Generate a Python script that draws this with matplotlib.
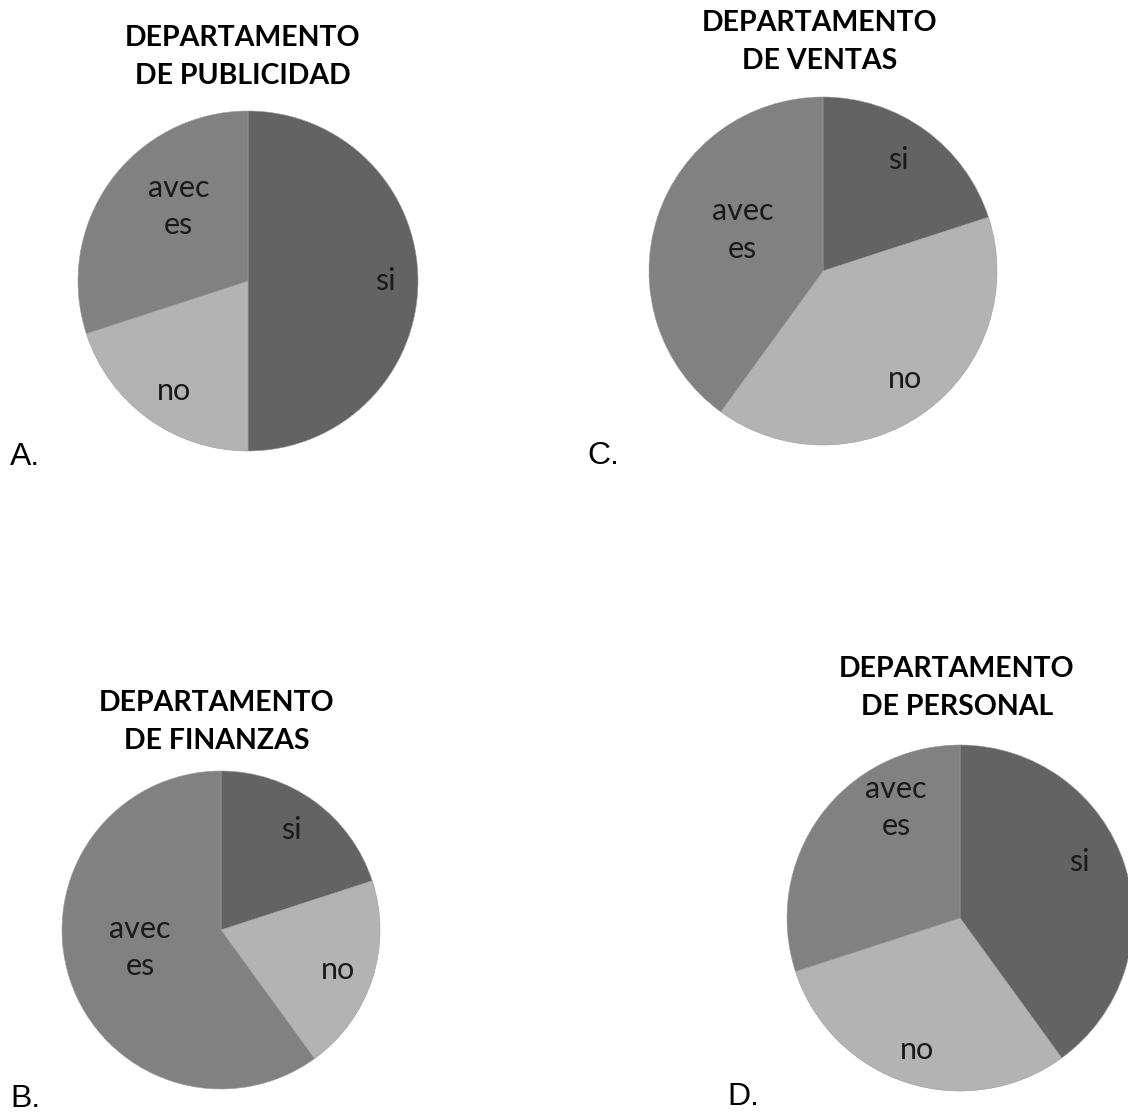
import numpy as np
import matplotlib
matplotlib.use("Agg")
import matplotlib.pyplot as plt

# datos (porcentajes)
categorias = ["si", "no", "avec\nes"]
publicidad = [50, 20, 30]
ventas = [20, 40, 40]
finanzas = [20, 20, 60]
personal = [40, 30, 30]
colores = ["#636363", "#b3b3b3", "#818181"]

W, H = 1128, 1115
fig = plt.figure(figsize=(W / 100, H / 100), dpi=100)
fig.patch.set_facecolor("white")

# (valores, titulo, letra, centro x, centro y, radio, distancias etiquetas, giro etiquetas, pos titulo, pos letra)
paneles = [
    (publicidad, "DEPARTAMENTO\nDE PUBLICIDAD", "A.", 248, 281, 170,
     [0.81, 0.78, 0.6], [0, 2, -11], (243, 57), (10, 457)),
    (ventas, "DEPARTAMENTO\nDE VENTAS", "C.", 823, 271, 174,
     [0.77, 0.78, 0.52], [2, 1, -9], (820, 42), (587, 456)),
    (finanzas, "DEPARTAMENTO\nDE FINANZAS", "B.", 221, 930, 159,
     [0.77, 0.78, 0.52], [1, -1, -6], (217, 722), (10, 1099)),
    (personal, "DEPARTAMENTO\nDE PERSONAL", "D.", 960, 918, 173,
     [0.76, 0.8, 0.74], [7, 0, -24], (957, 688), (727, 1097)),
]

for vals, titulo, letra, cx, cy, r, dists, giros, tpos, lpos in paneles:
    ax = fig.add_axes([(cx - r) / W, (H - cy - r) / H, 2 * r / W, 2 * r / H])
    wedges, _ = ax.pie(vals, colors=colores, startangle=90, counterclock=False,
                       radius=1, wedgeprops=dict(linewidth=0.4, edgecolor="#9a9a9a"))
    for w, lab, d, g in zip(wedges, categorias, dists, giros):
        mid = np.deg2rad((w.theta1 + w.theta2) / 2 + g)
        ax.text(d * np.cos(mid), d * np.sin(mid), lab, ha="center", va="center",
                fontsize=22, family="Lato", color="#1a1a1a", linespacing=1.4)
    ax.set_xlim(-1, 1)
    ax.set_ylim(-1, 1)
    ax.set_aspect("equal")
    ax.axis("off")
    fig.text(tpos[0] / W, 1 - tpos[1] / H, titulo, ha="center", va="center",
             fontsize=20.5, family="Lato", fontweight="bold", linespacing=1.6)
    fig.text(lpos[0] / W, 1 - lpos[1] / H, letra, ha="left", va="center",
             fontsize=23, family="Liberation Sans")

fig.savefig("out.png", dpi=100, facecolor="white")
